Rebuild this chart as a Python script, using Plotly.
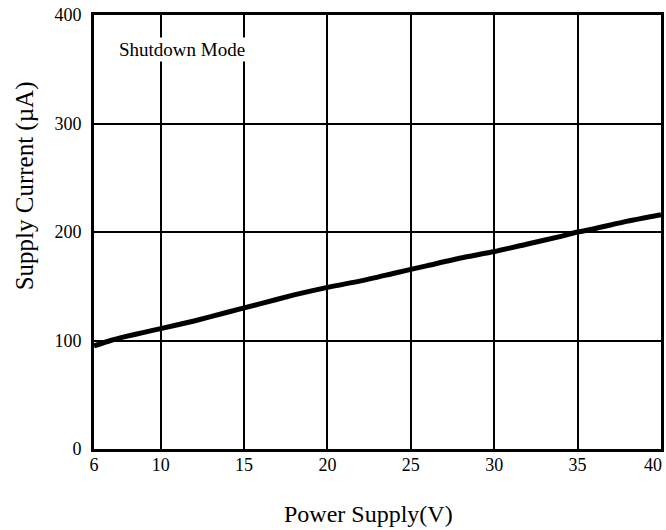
import plotly.graph_objects as go

# Data
supply_v = [6, 7, 8, 9, 10, 12, 14, 16, 18, 20, 22, 24, 26, 28, 30, 32, 34, 35, 36, 38, 40]
supply_ua = [95, 100, 104, 107.5, 111, 118, 126, 134, 142, 149, 155, 162, 169, 176, 182, 189, 196, 200, 203, 210, 216]

x_ticks = [6, 10, 15, 20, 25, 30, 35, 40]
y_ticks = [0, 100, 200, 300, 400]

FONT = "Liberation Serif, Times New Roman, serif"

W, H = 666, 530
pl, pr, pt, pb = 94, 2, 15, 81
pw, ph = W - pl - pr, H - pt - pb


def px_x(px):
    return (px - pl) / pw


def px_y(py):
    return 1 - (py - pt) / ph


# last x tick label sits at the window edge; draw it as an annotation kept inside the page
x_ticktext = [str(v) for v in x_ticks[:-1]] + [""]

fig = go.Figure()
fig.add_trace(go.Scatter(
    x=supply_v, y=supply_ua, mode="lines",
    line=dict(color="black", width=5, shape="spline", smoothing=0.6),
    showlegend=False, hoverinfo="skip",
))

fig.update_layout(
    width=W, height=H,
    margin=dict(l=pl, r=pr, t=pt, b=pb),
    paper_bgcolor="white", plot_bgcolor="white",
    font=dict(family=FONT, size=18, color="black"),
    xaxis=dict(
        range=[6, 40], tickvals=x_ticks, ticktext=x_ticktext,
        showgrid=True, gridcolor="black", gridwidth=1.5,
        showline=True, linecolor="black", linewidth=3, mirror=True,
        ticks="", zeroline=False, ticklabelstandoff=-3,
        tickfont=dict(family=FONT, size=18, color="black"),
    ),
    yaxis=dict(
        range=[0, 400], tickvals=y_ticks, ticktext=[str(v) for v in y_ticks],
        showgrid=True, gridcolor="black", gridwidth=1.5,
        showline=True, linecolor="black", linewidth=3, mirror=True,
        ticks="", zeroline=False, ticklabelstandoff=6,
        tickfont=dict(family=FONT, size=18, color="black"),
    ),
    annotations=[
        dict(text="Shutdown Mode", x=11.25, y=368, xref="x", yref="y",
             showarrow=False, bgcolor="white", xanchor="center", yanchor="middle",
             font=dict(family=FONT, size=19, color="black")),
        dict(text=str(x_ticks[-1]), x=px_x(667), y=px_y(465), xref="paper", yref="paper",
             showarrow=False, xanchor="right", yanchor="middle",
             font=dict(family=FONT, size=18, color="black")),
        dict(text="Power Supply(V)", x=px_x(370), y=px_y(514), xref="paper", yref="paper",
             showarrow=False, xanchor="center", yanchor="middle",
             font=dict(family=FONT, size=24, color="black")),
        dict(text="Supply Current (µA)", x=px_x(25), y=px_y(186), xref="paper", yref="paper",
             textangle=-90, showarrow=False, xanchor="center", yanchor="middle",
             font=dict(family=FONT, size=25, color="black")),
    ],
)

fig.write_html(
    "out.html",
    config={"displayModeBar": False},
    post_script="document.body.style.margin='0';document.body.style.overflow='hidden';",
)
